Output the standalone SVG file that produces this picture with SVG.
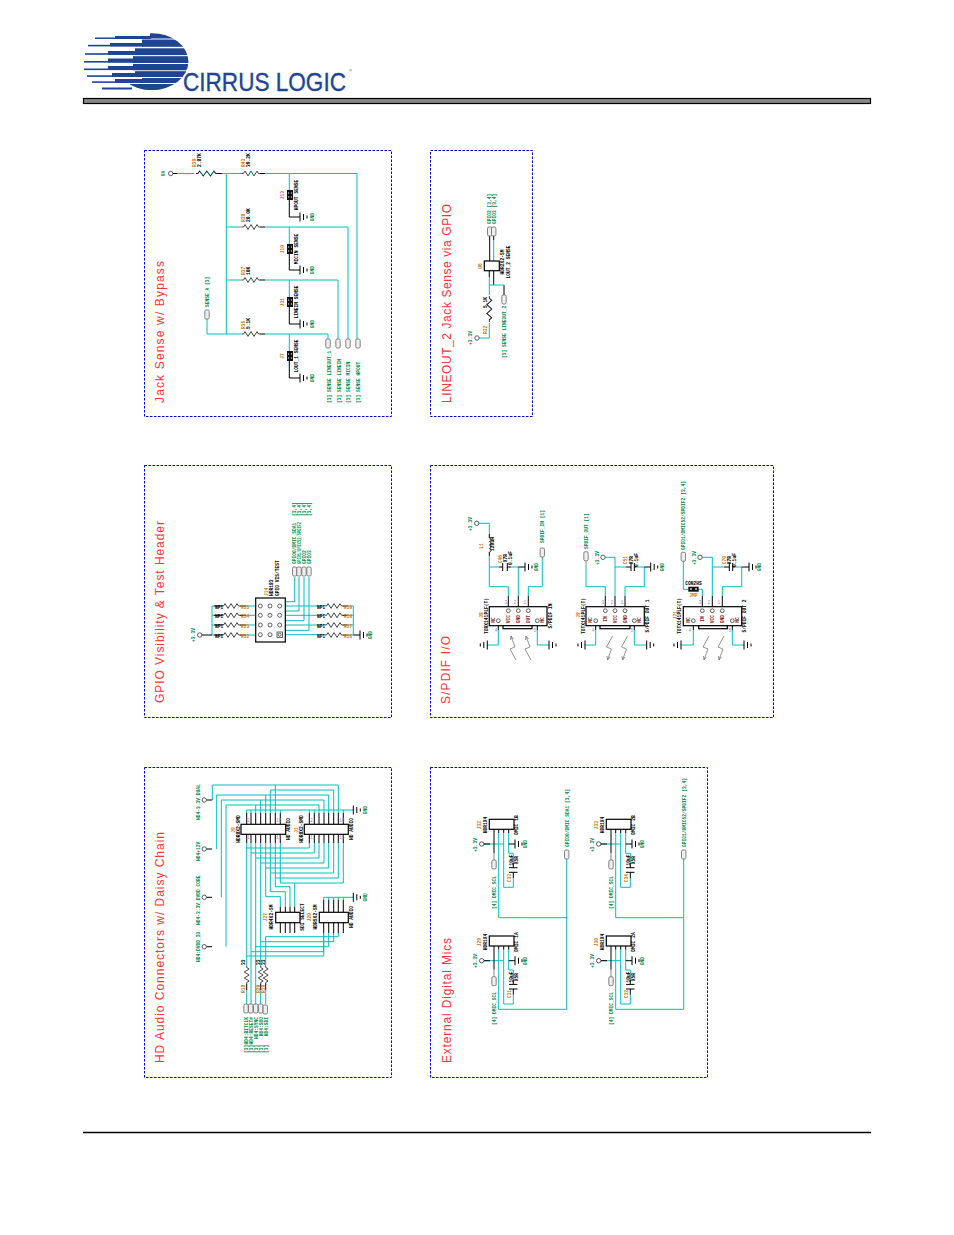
<svg xmlns="http://www.w3.org/2000/svg" width="954" height="1235" viewBox="0 0 954 1235">
<style>
.c{stroke:#00bfbf;stroke-width:1;fill:none}
.k{stroke:#000;stroke-width:1;fill:none}
.y{stroke:#888;stroke-width:1;fill:none}
.z{stroke:#222;stroke-width:.85;fill:none}
.f{fill:none;stroke:#0000e6;stroke-width:1;stroke-dasharray:2.5 1.5}
.bx{fill:#fff;stroke:#000;stroke-width:1.2}
text{font-family:"Liberation Mono",monospace;font-size:4.6px;font-weight:700;fill:#000}
.h{font-family:"Liberation Sans",sans-serif;font-size:12px;font-weight:400;fill:#f33}
.g{fill:#008a4a}
.o{fill:#c87a20}
.p{fill:#8a8ad0;font-weight:400}
.d{fill:#8b1a1a}
.m{text-anchor:middle}
.e{text-anchor:end}
.lg{font-family:"Liberation Sans",sans-serif;fill:#1f4494;stroke:#1f4494;font-weight:400}
</style>
<defs>
<path id="res" class="z" d="M0 0H1.5L3 -2.400L6 2.400L9 -2.400L12 2.400L15 -2.400L16.500 0H18"/>
<g id="gnd" class="k"><path d="M0 -4.5V4.5M3.5 -3V3M7 -1.5V1.5"/></g>
<rect id="port" x="-2.2" y="0" width="4.4" height="9" rx="1.4" fill="#eee" stroke="#666" stroke-width=".8"/>
<circle id="oc" r="2.2" fill="#fff" stroke="#333" stroke-width=".8"/>
<circle id="pc" r="1.9" fill="#fff" stroke="#222" stroke-width=".7"/>
<g id="jmp"><rect x="-3" y="-5" width="6" height="10" fill="#111"/><path d="M-1.4 -3V-1M1.4 -3V-1M-1.4 1V3M1.4 1V3" stroke="#999" stroke-width="1"/></g>
<path id="bolt" fill="none" stroke="#777" stroke-width=".8" d="M6 24L0 13L5 11L1 0M1 0L.5 4M1 0L3.5 3"/>
<path id="micc" class="c" d="M484 844H503.7M503.7 833V887.3H513.3V878M513.3 863V853.3H508.7V833"/>
<path id="mick" class="k" d="M494 829.3V853M498.7 829.3V833M503.7 829.3V833M508.7 829.3V833M484 844H490M508.7 844H515M513.3 863V867.7M513.3 872.3V878"/>
<clipPath id="gl"><ellipse cx="151.7" cy="61.7" rx="36.7" ry="28.5"/></clipPath>
</defs>
<rect width="954" height="1235" fill="#fff"/>

<g id="logo" fill="#1f4494">
<g clip-path="url(#gl)">
<rect x="150" y="33" width="40" height="5.500"/><rect x="142" y="39.500" width="50" height="7.300"/><rect x="135" y="48.300" width="56" height="6.800"/><rect x="133" y="56.200" width="58" height="6.800"/><rect x="133" y="64" width="58" height="6.300"/><rect x="135" y="71.200" width="56" height="5.800"/><rect x="142" y="78" width="50" height="5"/><rect x="130" y="84" width="60" height="6"/>
</g>
<rect x="95" y="37.500" width="56" height="1.500"/><rect x="88" y="44.800" width="55" height="1.600"/><rect x="85" y="53.200" width="51" height="1.600"/><rect x="84" y="61" width="50" height="1.600"/><rect x="84" y="68.500" width="50" height="1.600"/><rect x="87" y="75.300" width="50" height="1.600"/><rect x="92" y="81.300" width="51" height="1.600"/><rect x="102" y="87.500" width="30" height="2"/>
<rect x="115" y="36" width="36" height="2.500"/><rect x="110" y="43" width="33" height="3.400"/><rect x="108" y="51" width="28" height="3.800"/><rect x="108" y="58.500" width="26" height="4"/><rect x="108" y="66" width="26" height="4"/><rect x="112" y="73" width="25" height="3.700"/><rect x="115" y="79" width="28" height="3.700"/>
<text class="lg" x="183" y="90.500" textLength="163" lengthAdjust="spacingAndGlyphs" style="font-size:25px;stroke-width:.35">CIRRUS LOGIC</text>
<text class="lg" x="349" y="72" style="font-size:4px;stroke-width:0">®</text>
</g>
<rect id="headerbar" x="83.5" y="98.500" width="787" height="5" fill="#888" stroke="#000" stroke-width="1.200"/>
<path id="footerline" d="M83 1132.500H871" stroke="#000" stroke-width="1.500"/>

<g id="frames">
<rect class="f" x="144.500" y="150.500" width="247" height="266"/>
<rect class="f" x="430.500" y="150.500" width="102" height="266"/>
<rect class="f" x="144.500" y="465.500" width="247" height="252"/>
<rect class="f" x="430.500" y="465.500" width="343" height="252"/>
<rect class="f" x="144.500" y="767.500" width="247" height="310"/>
<rect class="f" x="430.500" y="767.500" width="277" height="310"/>
</g>
<g id="titles">
<text class="h" transform="translate(164,403) rotate(-90)" textLength="142">Jack Sense w/ Bypass</text>
<text class="h" transform="translate(451,403) rotate(-90)" textLength="199">LINEOUT_2 Jack Sense via GPIO</text>
<text class="h" transform="translate(164,703) rotate(-90)" textLength="182">GPIO Visibility &amp; Test Header</text>
<text class="h" transform="translate(450,704) rotate(-90)" textLength="68">S/PDIF I/O</text>
<text class="h" transform="translate(164,1063) rotate(-90)" textLength="231">HD Audio Connectors w/ Daisy Chain</text>
<text class="h" transform="translate(451,1063) rotate(-90)" textLength="125">External Digital Mics</text>
</g>

<g id="connectors">
<path class="c" d="M177 173.500H194M218 173.500H242M265 173.500H357V340M226.300 173.500V334M226.300 227H238M265 227H348V340M226.300 280H242M265 280H338V339M207 319V334H242M265 334H328V339"/>
<path class="k" d="M173 173.500H177M217 173.500H222M260 173.500H265M260 227H265M260 280H265M260 334H265"/>
<path class="y" d="M238 227H242"/>
<path class="c" d="M289.300 173.500V190M289.300 227V244M289.300 280V297M289.300 334V351"/>
<path class="k" d="M289.300 200V217H300M289.300 254V270H300M289.300 307V324H300M289.300 361V378H300"/>
<path class="k" d="M489.700 236V261M493.700 236V240M489.300 270.700V277M493.700 270.700V285M504 285V295"/>
<path class="c" d="M493.700 240V261M489.300 277V295M489.300 285H504M489.300 323V338H479"/>
<path class="c" d="M212 606V635M212 606H214M212 615.300H214M212 625H214M212 635H214M246 606H260.300M246 615.300H260.300M246 625H260.300M246 635H260.300M279.700 606H324M279.700 615.300H324M279.700 625H324M279.700 634.700H324M347 606H353.300V635M347 615.300H353.300M347 625H353.300M347 635H353.300"/>
<path class="k" d="M202 635H212M214 606H222M214 615.300H222M214 625H222M214 635H222M240 606H246M240 615.300H246M240 625H246M240 635H246M343 606H347M343 615.300H347M343 625H347M343 635H347M353.300 635H360"/>
<path class="c" d="M294.700 577V601.700H270V606M299 577V611H270V615.300M304 577V620.700H270V625M309 577V630.300H270V634.700"/>
<path class="c" d="M479 523.300H489.300V534M489.300 556V586.700H508.300V596M489.300 567H499M511 567H518.300V596M528.300 596V586.700H542.300V557M498.300 630V645H487.300M537.300 630V645H549"/>
<path class="k" d="M489.300 534V538M489.300 552V556M499 567H502.700M507.300 567H511M518.300 567H525M508.300 596V608.800M518.300 596V608.800M528.300 596V608.800M498.300 622.600V630M537.300 622.600V630"/>
<path class="c" d="M586 566V586.700H605.300V596M605 557.300H615V596M615 567H626M636 567H644.300V586.700H625V596M595.700 630V645H585M634.300 630V645H646.700"/>
<path class="y" d="M586 561V566"/>
<path class="k" d="M605.300 596V608.800M615 596V608.800M625 596V608.800M595.700 622.600V630M634.300 622.600V630M626 567H631M634.300 567H636M644.300 567H650.700"/>
<path class="c" d="M683.300 561V589.300H688.300M698.700 589.300H702.300V596M702 557.300H712.300V596M712.300 567H724M735 567H741.700V586.700H722.300V596M693.300 630V645H681M732.300 630V645H744"/>
<path class="k" d="M702.300 596V608.800M712.300 596V608.800M722.300 596V608.800M693.300 622.600V630M732.300 622.600V630M724 567H729.300M732.700 567H735M741.700 567H749"/>
<path class="c" d="M212.300 800V785H338.300V813M275.300 785V813M270.300 813V790H333.700V813M216.700 849V795H328.700V813M265.700 795V813M221.300 897.300V800H324V813M260.700 800V813M226 946.700V805H319V813M255.700 805V813M246.700 813V810H353.300M251 810V813M280.300 810V813M309.300 810V813M314.300 810V813M343.300 810V813"/>
<path class="k" d="M206.500 800H212.300M206.500 849H212M206.500 897.300H212M206.500 946.700H212M246.700 813V824M251 813V824M255.700 813V824M260.700 813V824M265.700 813V824M270.300 813V824M275.300 813V824M280.300 813V824M309.300 813V824M314.300 813V824M319 813V824M324 813V824M328.700 813V824M333.700 813V824M338.300 813V824M343.300 813V824"/>
<path class="k" d="M246.700 834V843M251 834V843M255.700 834V843M260.700 834V843M265.700 834V843M270.300 834V843M275.300 834V843M280.300 834V843M309.300 834V843M314.300 834V843M319 834V843M324 834V843M328.700 834V843M333.700 834V843M338.300 834V843M343.300 834V843"/>
<path class="c" d="M246.700 843V966M251 843V1004M255.700 843V1004M260.700 843V966M265.700 843V896.700H280.300V906.700M270.300 843V891.700H285.300V906.700M275.300 843V886.700H290V906.700M280.300 843V883M294.700 883V906.700"/>
<path class="c" d="M246.700 848H309.300V843M251 853H314.300V843M255.700 858H319V843M260.700 863H324V843M265.700 868H328.700V843M270.300 873H333.700V843M275.300 878H338.300V843M280.300 883H343.300V843"/>
<path class="k" d="M280.300 906.700V912.300M285.300 906.700V912.300M290 906.700V912.300M294.700 906.700V912.300M323.700 900V912.300M328.700 900V912.300M333.700 900V912.300M338.300 900V912.300M343.300 900V912.300"/>
<path class="c" d="M323.700 900V897.300H353M328.700 900V897.300M333.700 900V897.300M338.300 900V897.300M343.300 900V897.300"/>
<path class="k" d="M280.300 922.700V933M285.300 922.700V933M290 922.700V933M294.700 922.700V933M323.700 922.700V933M328.700 922.700V933M333.700 922.700V933M338.300 922.700V933M343.300 922.700V933"/>
<path class="c" d="M265.700 936.700H338.300V933M260.700 941.700H333.700V933M255.700 946.700H328.700V933M251 951.700H323.700V933M246.700 956H323.700V933M265.700 936.700V966"/>
<path class="c" d="M246.700 990V1004M260.700 990V1004M265.700 990V1004"/>
<path class="k" d="M246.700 984V990M260.700 984V990M265.700 984V990"/>
<use href="#micc"/><use href="#mick"/>
<use href="#micc" x="117"/><use href="#mick" x="117"/>
<use href="#micc" y="116.700"/><use href="#mick" y="116.700"/>
<use href="#micc" x="117" y="116.700"/><use href="#mick" x="117" y="116.700"/>
<path class="y" d="M494 853V860M611 853V860M494 969.700V976.700M611 969.700V976.700"/>
<path class="c" d="M498.700 833V917.700H566.700M566.700 858.300V1009.300H498.700V949.700M615.700 833V917.700H683.700M683.700 858.300V1009.300H615.700V949.700"/>
</g>

<g id="jack-sense">
<g id="VA"><use href="#oc" x="170.700" y="173.500"/><text class="g m" transform="translate(165,173.500) rotate(-90)">VA</text></g>
<g id="R39"><use href="#res" transform="translate(196,173.500) scale(1.200,1)"/><text class="o" transform="translate(196,167) rotate(-90)">R39</text><text transform="translate(201,167) rotate(-90)">2.87K</text></g>
<g id="R43"><use href="#res" x="242" y="173.500"/><text class="o" transform="translate(245,167) rotate(-90)">R43</text><text transform="translate(250,167) rotate(-90)">39.2K</text></g>
<g id="R38"><use href="#res" x="242" y="227"/><text class="o" transform="translate(245,222) rotate(-90)">R38</text><text transform="translate(250,222) rotate(-90)">20.0K</text></g>
<g id="R37"><use href="#res" x="242" y="280"/><text class="o" transform="translate(245,275) rotate(-90)">R37</text><text transform="translate(250,275) rotate(-90)">10K</text></g>
<g id="R35"><use href="#res" x="242" y="334"/><text class="o" transform="translate(245,329) rotate(-90)">R35</text><text transform="translate(250,329) rotate(-90)">5.1K</text></g>
<g id="J13"><use href="#jmp" x="290" y="195"/><text class="o m" transform="translate(284,195) rotate(-90)">J13</text><text class="m" transform="translate(298,195) rotate(-90)">HPOUT SENSE</text></g>
<g id="J10"><use href="#jmp" x="290" y="249"/><text class="o m" transform="translate(284,249) rotate(-90)">J10</text><text class="m" transform="translate(298,249) rotate(-90)">MICIN SENSE</text></g>
<g id="J31"><use href="#jmp" x="290" y="302"/><text class="o m" transform="translate(284,302) rotate(-90)">J31</text><text class="m" transform="translate(298,302) rotate(-90)">LINEIN SENSE</text></g>
<g id="J7"><use href="#jmp" x="290" y="356"/><text class="o m" transform="translate(284,356) rotate(-90)">J7</text><text class="m" transform="translate(298,356) rotate(-90)">LOUT_1 SENSE</text></g>
<g id="gnds1"><use href="#gnd" x="300" y="217"/><use href="#gnd" x="300" y="270"/><use href="#gnd" x="300" y="324"/><use href="#gnd" x="300" y="378"/>
<text class="g m" transform="translate(314,217) rotate(-90)">GND</text><text class="g m" transform="translate(314,270) rotate(-90)">GND</text><text class="g m" transform="translate(314,324) rotate(-90)">GND</text><text class="g m" transform="translate(314,378) rotate(-90)">GND</text></g>
<g id="SENSE_A"><use href="#port" x="207" y="310"/><text class="g" transform="translate(208.500,307) rotate(-90)">SENSE_A  [3]</text></g>
<g id="sense-ports"><use href="#port" x="328" y="339"/><use href="#port" x="338" y="339"/><use href="#port" x="348" y="339"/><use href="#port" x="358" y="339"/>
<text class="g" transform="translate(331,403) rotate(-90)">[3] SENSE LINEOUT_1</text>
<text class="g" transform="translate(340.500,403) rotate(-90)">[3] SENSE LINEIN</text>
<text class="g" transform="translate(350,403) rotate(-90)">[3] SENSE MICIN</text>
<text class="g" transform="translate(360,403) rotate(-90)">[3] SENSE HPOUT</text></g>
</g>

<g id="lineout2">
<g id="U6"><rect class="bx" x="484.300" y="261" width="15" height="9.700"/><text class="o m" transform="translate(482,266) rotate(-90)">U6</text><text class="m" transform="translate(504,262) rotate(-90)">HDR2X2-SM</text><text class="m" transform="translate(510,262) rotate(-90)">LOUT_2 SENSE</text></g>
<g id="R32"><use href="#res" transform="translate(489.300,296) rotate(90) scale(1.450,1)"/><text class="o" transform="translate(487,334) rotate(-90)">R32</text><text transform="translate(487,308) rotate(-90)">5.1K</text></g>
<g id="p33a"><use href="#oc" x="477" y="338"/><text class="g m" transform="translate(472,338) rotate(-90)">+3.3V</text></g>
<g id="gp23"><use href="#port" x="489.700" y="227"/><use href="#port" x="493.700" y="227"/><text class="g" transform="translate(491,224) rotate(-90)">GPIO2 [3,4]</text><text class="g" transform="translate(496,224) rotate(-90)">GPIO3 [3,4]</text></g>
<g id="SL2"><use href="#port" x="504" y="295"/><text class="g" transform="translate(506,358) rotate(-90)">[3] SENSE LINEOUT_2</text></g>
</g>

<g id="gpio-header">
<g id="J14"><rect class="bx" x="255.700" y="598" width="29.600" height="44"/>
<g fill="#fff" stroke="#222" stroke-width=".7"><circle cx="260.300" cy="606" r="2"/><circle cx="270" cy="606" r="2"/><circle cx="279.700" cy="606" r="2"/><circle cx="260.300" cy="615.300" r="2"/><circle cx="270" cy="615.300" r="2"/><circle cx="279.700" cy="615.300" r="2"/><circle cx="260.300" cy="625" r="2"/><circle cx="270" cy="625" r="2"/><circle cx="279.700" cy="625" r="2"/><circle cx="260.300" cy="634.700" r="2"/><circle cx="270" cy="634.700" r="2"/><rect x="277" y="632" width="5.400" height="5.400"/><circle cx="279.700" cy="634.700" r="1.500"/></g>
<text class="o" transform="translate(268,596) rotate(-90)">J14</text><text transform="translate(273,596) rotate(-90)">HDR183</text><text transform="translate(278.500,596) rotate(-90)">GPIO VIS/TEST</text></g>
<g id="resL"><use href="#res" x="222" y="606"/><use href="#res" x="222" y="615.300"/><use href="#res" x="222" y="625"/><use href="#res" x="222" y="635"/>
<text x="215" y="609">NPI</text><text x="215" y="618.300">NPI</text><text x="215" y="628">NPI</text><text x="215" y="638">NPI</text>
<text class="o" x="241" y="609">R55</text><text class="o" x="241" y="618.300">R54</text><text class="o" x="241" y="628">R53</text><text class="o" x="241" y="638">R52</text></g>
<g id="resR"><use href="#res" x="325" y="606"/><use href="#res" x="325" y="615.300"/><use href="#res" x="325" y="625"/><use href="#res" x="325" y="635"/>
<text x="317" y="609">NPI</text><text x="317" y="618.300">NPI</text><text x="317" y="628">NPI</text><text x="317" y="638">NPI</text>
<text class="o" x="344" y="609">R59</text><text class="o" x="344" y="618.300">R58</text><text class="o" x="344" y="628">R57</text><text class="o" x="344" y="638">R56</text></g>
<g id="p33g"><use href="#oc" x="199.700" y="635"/><text class="g m" transform="translate(195,635) rotate(-90)">+3.3V</text></g>
<g id="gndg"><use href="#gnd" x="360" y="635"/><text class="g m" transform="translate(372,635) rotate(-90)">GND</text></g>
<g id="gpioPorts"><use href="#port" x="294.700" y="567"/><use href="#port" x="299" y="567"/><use href="#port" x="304" y="567"/><use href="#port" x="309" y="567"/>
<text class="g" transform="translate(296,564) rotate(-90)">GPIO0/DMIC_SDA1</text><text class="g" transform="translate(300.500,564) rotate(-90)" textLength="42" lengthAdjust="spacingAndGlyphs">GPIO1/DMIC52/SPDIF2</text><text class="g" transform="translate(305.500,564) rotate(-90)">GPIO2</text><text class="g" transform="translate(310.500,564) rotate(-90)">GPIO3</text>
<text class="g" transform="translate(296,516) rotate(-90)">[3,4]</text><text class="g" transform="translate(300.500,516) rotate(-90)">[3,4]</text><text class="g" transform="translate(305.500,516) rotate(-90)">[3,4]</text><text class="g" transform="translate(310.500,516) rotate(-90)">[3,4]</text></g>
</g>

<g id="spdif">
<g id="J8A"><rect class="bx" x="489.300" y="606.700" width="57.700" height="19"/><rect class="bx" x="503" y="625.700" width="29" height="3"/>
<use href="#pc" x="508.300" y="610.700"/><use href="#pc" x="518.300" y="610.700"/><use href="#pc" x="528.300" y="610.700"/><use href="#pc" x="498.300" y="620.700"/><use href="#pc" x="537.300" y="620.700"/>
<text class="o m" transform="translate(483,615) rotate(-90)">J8</text><text class="m" transform="translate(487.500,616) rotate(-90)">TORX141PLF(T)</text>
<text class="d m" transform="translate(510,619) rotate(-90)">VCC</text><text class="d m" transform="translate(520,619) rotate(-90)">GND</text><text class="d m" transform="translate(530,619) rotate(-90)">OUT</text><text class="d m" transform="translate(495,620) rotate(-90)">NC</text><text class="d m" transform="translate(544,620) rotate(-90)">NC</text>
<text class="m" transform="translate(552,616) rotate(-90)">S/PDIF IN</text>
<text class="p m" x="506" y="604">3</text><text class="p m" x="515" y="604">2</text><text class="p m" x="525" y="604">1</text><text class="p m" x="496" y="632">4</text><text class="p m" x="535" y="632">5</text></g>
<use href="#bolt" x="510" y="636"/><use href="#bolt" x="525" y="636"/>
<g id="L1"><path class="z" d="M489.300 538a1.700 1.700 0 0 1 0 3.500a1.700 1.700 0 0 1 0 3.500a1.700 1.700 0 0 1 0 3.500a1.700 1.700 0 0 1 0 3.500"/><text class="o m" transform="translate(483,546) rotate(-90)">L1</text><text class="m" transform="translate(494,544) rotate(-90)">120uH</text></g>
<g id="p33s1"><use href="#oc" x="476.700" y="523.300"/><text class="g m" transform="translate(472,524) rotate(-90)">+3.3V</text></g>
<g id="C46"><path class="k" d="M502.700 563V571M507.300 563V571"/><text class="o m" transform="translate(502,559) rotate(-90)">C46</text><text class="m" transform="translate(507,558) rotate(-90)">X7R</text><text class="m" transform="translate(512,558) rotate(-90)">0.1uF</text></g>
<g id="gs1"><use href="#gnd" x="525" y="567"/><text class="g m" transform="translate(537.500,567) rotate(-90)">GND</text></g>
<g id="SPDIF_IN"><use href="#port" x="542.300" y="548"/><text class="g" transform="translate(544,543) rotate(-90)">SPDIF_IN [1]</text></g>
<use href="#gnd" transform="translate(487.300,645) scale(-1,1)"/><use href="#gnd" x="549" y="645"/>

<g id="J8B"><rect class="bx" x="586" y="606.700" width="58.300" height="19"/><rect class="bx" x="600" y="625.700" width="30" height="3"/>
<use href="#pc" x="605.300" y="610.700"/><use href="#pc" x="615" y="610.700"/><use href="#pc" x="625" y="610.700"/><use href="#pc" x="595.700" y="620.700"/><use href="#pc" x="634.300" y="620.700"/>
<text class="o m" transform="translate(579.500,615) rotate(-90)">J8</text><text class="m" transform="translate(584.500,616) rotate(-90)">TOTX141PLF(T)</text>
<text class="d m" transform="translate(607,619) rotate(-90)">IN</text><text class="d m" transform="translate(617,619) rotate(-90)">VCC</text><text class="d m" transform="translate(627,619) rotate(-90)">GND</text><text class="d m" transform="translate(592,620) rotate(-90)">NC</text><text class="d m" transform="translate(641,620) rotate(-90)">NC</text>
<text class="m" transform="translate(648.500,616) rotate(-90)">S/PDIF OUT 1</text>
<text class="p m" x="603" y="604">3</text><text class="p m" x="612" y="604">2</text><text class="p m" x="622" y="604">1</text><text class="p m" x="593" y="632">4</text><text class="p m" x="632" y="632">5</text></g>
<use href="#bolt" transform="translate(606.500,660) scale(1,-1)"/><use href="#bolt" transform="translate(621.500,660) scale(1,-1)"/>
<g id="SPDIF_OUT"><use href="#port" x="586" y="551.700"/><text class="g" transform="translate(588,549) rotate(-90)">SPDIF_OUT [1]</text></g>
<g id="p33s2"><use href="#oc" x="603" y="557.300"/><text class="g m" transform="translate(598.500,558) rotate(-90)">+3.3V</text></g>
<g id="C51"><path class="k" d="M631 563V571M634.300 563V571"/><text class="o m" transform="translate(627,560) rotate(-90)">C51</text><text class="m" transform="translate(633,560) rotate(-90)">X7R</text><text class="m" transform="translate(638,560) rotate(-90)">0.1uF</text></g>
<g id="gs2"><use href="#gnd" x="650.700" y="567"/><text class="g m" transform="translate(663.500,567) rotate(-90)">GND</text></g>
<use href="#gnd" transform="translate(585,645) scale(-1,1)"/><use href="#gnd" x="646.700" y="645"/>

<g id="J71"><rect class="bx" x="683.300" y="606.700" width="58.400" height="19"/><rect class="bx" x="698.700" y="625.700" width="28.600" height="3"/>
<use href="#pc" x="702.300" y="610.700"/><use href="#pc" x="712.300" y="610.700"/><use href="#pc" x="722.300" y="610.700"/><use href="#pc" x="693.300" y="620.700"/><use href="#pc" x="732.300" y="620.700"/>
<text class="o m" transform="translate(677,615) rotate(-90)">J71</text><text class="m" transform="translate(681,616) rotate(-90)">TOTX141PLF(T)</text>
<text class="d m" transform="translate(704,619) rotate(-90)">IN</text><text class="d m" transform="translate(714,619) rotate(-90)">VCC</text><text class="d m" transform="translate(724,619) rotate(-90)">GND</text><text class="d m" transform="translate(689.500,620) rotate(-90)">NC</text><text class="d m" transform="translate(739,620) rotate(-90)">NC</text>
<text class="m" transform="translate(745.500,616) rotate(-90)">S/PDIF OUT 2</text>
<text class="p m" x="700" y="604">3</text><text class="p m" x="709" y="604">2</text><text class="p m" x="719" y="604">1</text><text class="p m" x="690" y="632">4</text><text class="p m" x="730" y="632">5</text></g>
<use href="#bolt" transform="translate(703,660) scale(1,-1)"/><use href="#bolt" transform="translate(718,660) scale(1,-1)"/>
<g id="GPIO1port"><use href="#port" x="683.300" y="552.300"/><text class="g" transform="translate(685,550) rotate(-90)">GPIO1/DMIC52/SPDIF2 [3,4]</text></g>
<g id="JP1"><rect x="688.300" y="586.700" width="10.400" height="5" fill="#111"/><path d="M691 588V590M696 588V590" stroke="#ccc" stroke-width="1.500"/><text class="m" x="693.500" y="585">CON2HS</text><text class="o m" x="693.500" y="596.500">JMP</text></g>
<g id="p33s3"><use href="#oc" x="700" y="557.300"/><text class="g m" transform="translate(695.500,558) rotate(-90)">+3.3V</text></g>
<g id="C70"><path class="k" d="M729.300 563V571M732.700 563V571"/><text class="o m" transform="translate(725.500,560) rotate(-90)">C70</text><text class="m" transform="translate(731,560) rotate(-90)">X7R</text><text class="m" transform="translate(736,560) rotate(-90)">0.1uF</text></g>
<g id="gs3"><use href="#gnd" x="749" y="567"/><text class="g m" transform="translate(760.500,567) rotate(-90)">GND</text></g>
<use href="#gnd" transform="translate(681,645) scale(-1,1)"/><use href="#gnd" x="744" y="645"/>
</g>

<g id="hd-audio">
<g id="J9"><rect class="bx" x="241" y="824.300" width="44.700" height="10"/><text class="o m" transform="translate(235,830) rotate(-90)">J9</text><text class="m" transform="translate(240,829) rotate(-90)">HDR8X2-SMD</text><text class="m" transform="translate(290,829) rotate(-90)">HD AUDIO</text><text class="p" x="247" y="822">2</text><text class="p" x="276" y="822">16</text><text class="p" x="247" y="839">1</text><text class="p" x="276" y="839">15</text></g>
<g id="J1"><rect class="bx" x="304.300" y="824.300" width="44" height="10"/><text class="o m" transform="translate(298,830) rotate(-90)">J1</text><text class="m" transform="translate(303,829) rotate(-90)">HDR8X2-SMD</text><text class="m" transform="translate(353,829) rotate(-90)">HD AUDIO</text><text class="p" x="310" y="822">2</text><text class="p" x="339" y="822">16</text><text class="p" x="310" y="839">1</text><text class="p" x="339" y="839">15</text></g>
<g id="J27"><rect class="bx" x="275.700" y="912.300" width="24.300" height="10.400"/><text class="o m" transform="translate(267,917) rotate(-90)">J27</text><text class="m" transform="translate(272.500,917) rotate(-90)">HDR4X2-SM</text><text class="m" transform="translate(304,917) rotate(-90)">SDI SELECT</text></g>
<g id="J20"><rect class="bx" x="319.300" y="912.300" width="29" height="10.400"/><text class="o m" transform="translate(311,917) rotate(-90)">J20</text><text class="m" transform="translate(317,917) rotate(-90)">HDR5X2-SM</text><text class="m" transform="translate(353,917) rotate(-90)">HD AUDIO</text></g>
<g id="gh"><use href="#gnd" x="353.300" y="810"/><use href="#gnd" x="353.300" y="897.300"/><text class="g m" transform="translate(367,810) rotate(-90)">GND</text><text class="g m" transform="translate(367,897.300) rotate(-90)">GND</text></g>
<g id="hdPwr"><use href="#oc" x="204.300" y="800"/><use href="#oc" x="204.300" y="849"/><use href="#oc" x="204.300" y="897.300"/><use href="#oc" x="204.300" y="946.700"/>
<text class="g" transform="translate(200,820) rotate(-90)">HD4-3.3V_DUAL</text><text class="g" transform="translate(200,861) rotate(-90)">HD4+12V</text><text class="g" transform="translate(200,925) rotate(-90)">HD4-3.3V_DVDD_CORE</text><text class="g" transform="translate(200,962) rotate(-90)">HD4:DVDD_IO</text></g>
<g id="R18"><use href="#res" transform="translate(246.700,966) rotate(90)"/><text transform="translate(245,965) rotate(-90)">33</text><text class="o" transform="translate(245,993) rotate(-90)">R18</text></g>
<g id="R20"><use href="#res" transform="translate(260.700,966) rotate(90)"/><text transform="translate(260,965) rotate(-90)">33</text><text class="o" transform="translate(260,993) rotate(-90)">R20</text></g>
<g id="R19"><use href="#res" transform="translate(265.700,966) rotate(90)"/><text transform="translate(265,965) rotate(-90)">33</text><text class="o" transform="translate(265,993) rotate(-90)">R19</text></g>
<g id="hdPorts"><use href="#port" x="246" y="1004"/><use href="#port" x="250.700" y="1004"/><use href="#port" x="255.700" y="1004"/><use href="#port" x="260.700" y="1004"/><use href="#port" x="265.300" y="1005"/>
<text class="g e" transform="translate(247.500,1017) rotate(-90)">HD4:BITCLK</text><text class="g e" transform="translate(252.500,1017) rotate(-90)">HD4:RESET#</text><text class="g e" transform="translate(257.500,1017) rotate(-90)">HD4:SYNC</text><text class="g e" transform="translate(262.500,1017) rotate(-90)">HD4:SDO</text><text class="g e" transform="translate(267.500,1017) rotate(-90)">HD4:SDI</text>
<text class="g" transform="translate(247.500,1053) rotate(-90)">[3]</text><text class="g" transform="translate(252.500,1053) rotate(-90)">[3]</text><text class="g" transform="translate(257.500,1053) rotate(-90)">[3]</text><text class="g" transform="translate(262.500,1053) rotate(-90)">[3]</text><text class="g" transform="translate(267.500,1053) rotate(-90)">[3]</text></g>
</g>

<g id="mics">
<g id="J32"><rect class="bx" x="489.300" y="819.300" width="24.700" height="10"/><use href="#oc" x="481.700" y="844"/><use href="#gnd" x="515" y="844"/><use href="#port" x="494" y="860"/>
<path class="k" d="M509 867.700H517.500M509 872.300H517.500"/>
<text class="o m" transform="translate(481,825) rotate(-90)">J32</text><text class="m" transform="translate(487,825) rotate(-90)">HDR1X4</text><text class="m" transform="translate(518,825) rotate(-90)">DMIC 1B</text>
<text class="g m" transform="translate(476.500,845) rotate(-90)">+3.3V</text><text class="g m" transform="translate(527,844) rotate(-90)">GND</text>
<text class="o m" transform="translate(511,878) rotate(-90)">C33</text><text class="m" transform="translate(512.500,860) rotate(-90)">10uF</text><text class="m" transform="translate(518,860) rotate(-90)">X5R</text>
<text class="g" transform="translate(495.500,909) rotate(-90)">[4] DMIC_SCL</text></g>
<g id="J33"><rect class="bx" x="606.300" y="819.300" width="24.700" height="10"/><use href="#oc" x="598.700" y="844"/><use href="#gnd" x="632" y="844"/><use href="#port" x="611" y="860"/>
<path class="k" d="M626 867.700H634.500M626 872.300H634.500"/>
<text class="o m" transform="translate(598,825) rotate(-90)">J33</text><text class="m" transform="translate(604,825) rotate(-90)">HDR1X4</text><text class="m" transform="translate(635,825) rotate(-90)">DMIC 2B</text>
<text class="g m" transform="translate(593.500,845) rotate(-90)">+3.3V</text><text class="g m" transform="translate(644,844) rotate(-90)">GND</text>
<text class="o m" transform="translate(628,878) rotate(-90)">C34</text><text class="m" transform="translate(629.500,860) rotate(-90)">10uF</text><text class="m" transform="translate(635,860) rotate(-90)">X5R</text>
<text class="g" transform="translate(612.500,909) rotate(-90)">[4] DMIC_SCL</text></g>
<g id="J29"><rect class="bx" x="489.300" y="936" width="24.700" height="10"/><use href="#oc" x="481.700" y="960.700"/><use href="#gnd" x="515" y="960.700"/><use href="#port" x="494" y="976.700"/>
<path class="k" d="M509 984.400H517.500M509 989H517.500"/>
<text class="o m" transform="translate(481,942) rotate(-90)">J29</text><text class="m" transform="translate(487,942) rotate(-90)">HDR1X4</text><text class="m" transform="translate(518,942) rotate(-90)">DMIC 1A</text>
<text class="g m" transform="translate(476.500,961) rotate(-90)">+3.3V</text><text class="g m" transform="translate(527,961) rotate(-90)">GND</text>
<text class="o m" transform="translate(511,994) rotate(-90)">C31</text><text class="m" transform="translate(512.500,977) rotate(-90)">10uF</text><text class="m" transform="translate(518,977) rotate(-90)">X5R</text>
<text class="g" transform="translate(495.500,1025) rotate(-90)">[4] DMIC_SCL</text></g>
<g id="J30"><rect class="bx" x="606.300" y="936" width="24.700" height="10"/><use href="#oc" x="598.700" y="960.700"/><use href="#gnd" x="632" y="960.700"/><use href="#port" x="611" y="976.700"/>
<path class="k" d="M626 984.400H634.500M626 989H634.500"/>
<text class="o m" transform="translate(598,942) rotate(-90)">J30</text><text class="m" transform="translate(604,942) rotate(-90)">HDR1X4</text><text class="m" transform="translate(635,942) rotate(-90)">DMIC 2A</text>
<text class="g m" transform="translate(593.500,961) rotate(-90)">+3.3V</text><text class="g m" transform="translate(644,961) rotate(-90)">GND</text>
<text class="o m" transform="translate(628,994) rotate(-90)">C32</text><text class="m" transform="translate(629.500,977) rotate(-90)">10uF</text><text class="m" transform="translate(635,977) rotate(-90)">X5R</text>
<text class="g" transform="translate(612.500,1025) rotate(-90)">[4] DMIC_SCL</text></g>
<g id="SDA1"><use href="#port" x="566.700" y="850"/><text class="g" transform="translate(568.500,847) rotate(-90)">GPIO0/DMIC_SDA1 [3,4]</text></g>
<g id="SDA2"><use href="#port" x="683.700" y="850"/><text class="g" transform="translate(685.500,847) rotate(-90)">GPIO1/DMIC52/SPDIF2 [3,4]</text></g>
</g>
</svg>
